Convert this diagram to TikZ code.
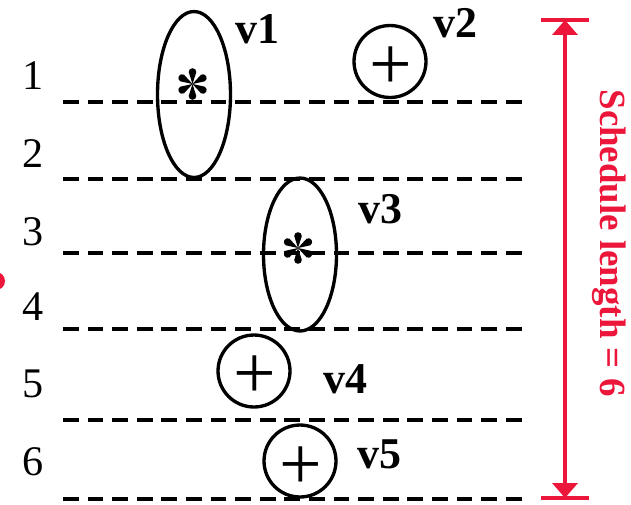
\documentclass[tikz,border=0pt]{standalone}
\usepackage{fontspec}
\setmainfont{Liberation Serif}
\usetikzlibrary{arrows.meta, positioning, shapes.geometric, calc}
\definecolor{sred}{RGB}{236,22,58}
\tikzset{
  every picture/.style={line width=1.9pt},
  slot/.style={dash pattern=on 9pt off 5pt, line width=2.3pt},
  rowno/.style={font=\fontsize{24}{28}\selectfont, anchor=base, inner sep=0pt},
  opnode/.style={draw, inner sep=0pt, line width=1.9pt},
  opcirc/.style={opnode, circle, minimum size=1.44cm},
  opell/.style={opnode, ellipse, minimum width=1.46cm, minimum height=#1},
  oplabel/.style={font=\fontsize{25}{30}\selectfont\bfseries, anchor=base, inner sep=0pt},
  plus/.style={font=\fontsize{43}{48}\selectfont, inner sep=0pt},
  dim/.style={draw=sred, line width=2.2pt},
  mulstar/.pic={
    \foreach \a in {30,90,150,210,270,330}
      \fill[rotate=\a] (0,0) -- (12,-3.8) arc[start angle=-90, end angle=90, radius=3.8] -- cycle;
  },
}
\begin{document}
\begin{tikzpicture}[x=0.02cm, y=-0.02cm]
  \useasboundingbox (0,0) rectangle (631,504);
  % control steps
  \foreach[count=\k] \y/\b in {102/89, 179/167, 253/245, 329/320, 420/397, 499/475} {
    \coordinate (l\k) at (63,\y);
    \coordinate (r\k) at (530,\y);
    \draw[slot] (l\k) -- (r\k);
    \node[rowno] (n\k) at (33,\b) {\k};
  }
  % operations
  \node[opell=3.32cm] (v1) at (194,94.5) {};
  \node[opcirc] (v2) at (390,61.5) {};
  \node[opell=3.06cm] (v3) at (300,254.5) {};
  \node[opcirc] (v4) at (254,371) {};
  \node[opcirc] (v5) at (300,461) {};
  \pic at ($(v1.center)+(-1.5,-10.5)$) {mulstar};
  \pic at ($(v3.center)+(-2,-6.5)$) {mulstar};
  \node[plus] (p2) at ($(v2.center)+(1,6.5)$) {+};
  \node[plus] (p4) at ($(v4.center)+(1,6)$) {+};
  \node[plus] (p5) at ($(v5.center)+(1,7)$) {+};
  \node[oplabel] (t1) at (257,43) {v1};
  \node[oplabel] (t2) at (455,37) {v2};
  \node[oplabel] (t3) at (380,223) {v3};
  \node[oplabel] (t4) at (345,393) {v4};
  \node[oplabel] (t5) at (379,468) {v5};
  % schedule length
  \coordinate (st) at (565,20);
  \coordinate (sb) at (565,498);
  \draw[dim, {Triangle[length=0.3cm, width=0.5cm]}-{Triangle[length=0.3cm, width=0.5cm]}] (st) -- (sb);
  \draw[dim] ($(st)+(-24,0)$) -- ($(st)+(24,0)$);
  \draw[dim] ($(sb)+(-24,0)$) -- ($(sb)+(24,0)$);
  \node[text=sred, font=\fontsize{21}{24}\selectfont\bfseries, rotate=-90] (len) at (609,243) {Schedule length = 6};
  \fill[sred] (-4,281) circle (9);
\end{tikzpicture}
\end{document}
